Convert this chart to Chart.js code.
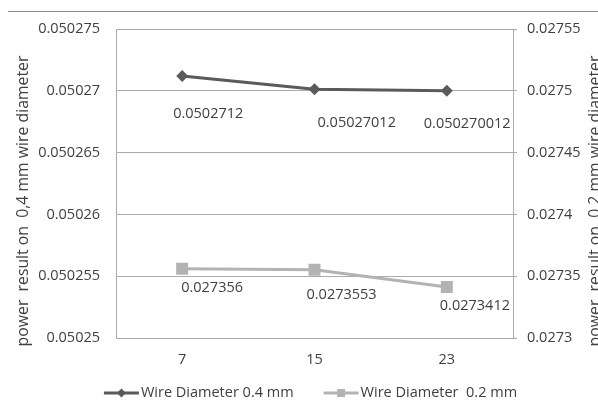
<!DOCTYPE html>
<html><head><meta charset="utf-8">
<script src="https://cdn.jsdelivr.net/npm/chart.js@4/dist/chart.umd.min.js"></script>
<style>html,body{margin:0;padding:0;background:#fff;}canvas{display:block;}</style>
</head><body>
<canvas id="c" width="598" height="401" style="width:598px;height:401px"></canvas>
<script>
const categories = ['7', '15', '23'];
const series04 = [0.0502712, 0.05027012, 0.050270012];
const series02 = [0.027356, 0.0273553, 0.0273412];
const labels04 = ['0.0502712', '0.05027012', '0.050270012'];
const labels02 = ['0.027356', '0.0273553', '0.0273412'];
const leftTicks = [0.05025, 0.050255, 0.05026, 0.050265, 0.05027, 0.050275];
const leftTickLabels = ['0.05025', '0.050255', '0.05026', '0.050265', '0.05027', '0.050275'];
const rightTicks = [0.0273, 0.02735, 0.0274, 0.02745, 0.0275, 0.02755];
const rightTickLabels = ['0.0273', '0.02735', '0.0274', '0.02745', '0.0275', '0.02755'];
const seriesNames = ['Wire Diameter 0.4 mm', 'Wire Diameter  0.2 mm'];
const leftTitle = 'power  result on  0,4 mm wire diameter';
const rightTitle = 'power  result on  0,2 mm wire diameter';

const FONT = '"Open Sans"';
const FSIZE = 14.5;
const TSIZE = 15.8;
const TEXT = '#404040';
const GRID = '#ababab';
const DARK = '#5a5a5a';
const LIGHT = '#b3b3b3';

// label placement offsets (style, not data): [dx to left edge, dy to text centre]
const labelOffsets = [
  [[-9, 37.5], [3, 33.5], [-23, 33.5]],
  [[-1, 19], [-8, 25.5], [-7, 19]]
];

const framePlugin = {
  id: 'frame',
  beforeDraw(chart) {
    const ctx = chart.ctx;
    ctx.save();
    ctx.fillStyle = '#fff';
    ctx.fillRect(0, 0, chart.width, chart.height);
    ctx.strokeStyle = '#8c8c8c';
    ctx.lineWidth = 1;
    ctx.beginPath();
    ctx.moveTo(8, 11.5);
    ctx.lineTo(chart.width, 11.5);
    ctx.stroke();
    ctx.restore();
  }
};

const labelPlugin = {
  id: 'pointLabels',
  afterDatasetsDraw(chart) {
    const ctx = chart.ctx;
    const texts = [labels04, labels02];
    ctx.save();
    ctx.font = FSIZE + 'px ' + FONT;
    ctx.fillStyle = TEXT;
    ctx.textAlign = 'left';
    ctx.textBaseline = 'middle';
    chart.data.datasets.forEach((ds, di) => {
      const meta = chart.getDatasetMeta(di);
      meta.data.forEach((pt, i) => {
        const o = labelOffsets[di][i];
        ctx.fillText(texts[di][i], pt.x + o[0], pt.y + o[1]);
      });
    });
    ctx.restore();
  }
};

const titlePlugin = {
  id: 'axisTitles',
  afterDraw(chart) {
    const ctx = chart.ctx;
    const cy = 201;
    ctx.save();
    ctx.font = TSIZE + 'px ' + FONT;
    ctx.fillStyle = TEXT;
    ctx.textAlign = 'center';
    ctx.textBaseline = 'alphabetic';
    [[28, leftTitle], [600, rightTitle]].forEach(([x, t]) => {
      ctx.save();
      ctx.translate(x, cy);
      ctx.rotate(-Math.PI / 2);
      ctx.fillText(t, 0, 0);
      ctx.restore();
    });
    ctx.restore();
  }
};

const legendPlugin = {
  id: 'customLegend',
  afterDraw(chart) {
    const ctx = chart.ctx;
    const y = 393;
    const symLen = 35, symGap = 2, itemGap = 30;
    ctx.save();
    ctx.font = FSIZE + 'px ' + FONT;
    const widths = chart.data.datasets.map(d => ctx.measureText(d.label).width);
    const total = widths.reduce((a, w) => a + symLen + symGap + w, 0) + itemGap * (widths.length - 1);
    let x = 310.5 - total / 2;
    chart.data.datasets.forEach((ds, i) => {
      ctx.strokeStyle = ds.borderColor;
      ctx.lineWidth = 3;
      ctx.beginPath();
      ctx.moveTo(x, y);
      ctx.lineTo(x + symLen, y);
      ctx.stroke();
      const cx = x + symLen / 2;
      ctx.fillStyle = ds.backgroundColor;
      ctx.beginPath();
      if (ds.pointStyle === 'rectRot') {
        const r = 4.5;
        ctx.moveTo(cx, y - r); ctx.lineTo(cx + r, y); ctx.lineTo(cx, y + r); ctx.lineTo(cx - r, y);
        ctx.closePath();
      } else {
        ctx.rect(cx - 4, y - 4, 8, 8);
      }
      ctx.fill();
      ctx.fillStyle = TEXT;
      ctx.textAlign = 'left';
      ctx.textBaseline = 'middle';
      ctx.fillText(ds.label, x + symLen + symGap, y);
      x += symLen + symGap + widths[i] + itemGap;
    });
    ctx.restore();
  }
};

new Chart(document.getElementById('c'), {
  type: 'line',
  data: {
    labels: categories,
    datasets: [
      {
        label: seriesNames[0], data: series04, yAxisID: 'y',
        borderColor: DARK, backgroundColor: DARK, borderWidth: 3,
        pointStyle: 'rectRot', pointRadius: 6, pointBorderWidth: 0, tension: 0
      },
      {
        label: seriesNames[1], data: series02, yAxisID: 'y2',
        borderColor: LIGHT, backgroundColor: LIGHT, borderWidth: 3,
        pointStyle: 'rect', pointRadius: 8.5, pointBorderWidth: 0, tension: 0
      }
    ]
  },
  options: {
    responsive: false,
    animation: false,
    devicePixelRatio: 1,
    layout: { padding: { top: 29, left: 0, right: 0, bottom: 0 } },
    plugins: { legend: { display: false }, tooltip: { enabled: false } },
    scales: {
      x: {
        type: 'category', offset: true,
        grid: { display: false, drawTicks: false },
        border: { display: true, color: GRID, width: 1 },
        ticks: { color: TEXT, font: { family: FONT, size: FSIZE }, padding: 13 },
        afterFit(s) { s.height = 63; }
      },
      y: {
        type: 'linear', position: 'left',
        min: leftTicks[0], max: leftTicks[leftTicks.length - 1],
        afterBuildTicks(s) { s.ticks = leftTicks.map(v => ({ value: v })); },
        grid: { color: GRID, drawTicks: false, lineWidth: 1 },
        border: { display: true, color: GRID, width: 1 },
        ticks: { color: TEXT, font: { family: FONT, size: FSIZE }, padding: 16,
          callback: (v, i) => leftTickLabels[i] },
        afterFit(s) { s.width = 116; }
      },
      y2: {
        type: 'linear', position: 'right',
        min: rightTicks[0], max: rightTicks[rightTicks.length - 1],
        afterBuildTicks(s) { s.ticks = rightTicks.map(v => ({ value: v })); },
        grid: { drawOnChartArea: false, color: GRID, tickLength: 4, lineWidth: 1 },
        border: { display: true, color: GRID, width: 1 },
        ticks: { color: TEXT, font: { family: FONT, size: FSIZE }, padding: 10,
          callback: (v, i) => rightTickLabels[i] },
        afterFit(s) { s.width = 85; }
      }
    }
  },
  plugins: [framePlugin, labelPlugin, titlePlugin, legendPlugin]
});
</script>
</body></html>
